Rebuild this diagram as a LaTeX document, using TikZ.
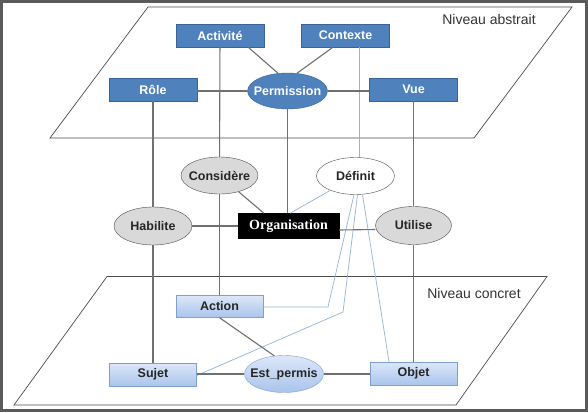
\documentclass[tikz,border=0pt]{standalone}
\usepackage{fontspec}
\setmainfont{Liberation Sans}
\newfontfamily\orgfont{Liberation Serif}
\usetikzlibrary{shapes.geometric}
\newcommand\elltext[1]{\makebox[0pt]{#1}}
\definecolor{boxblue}{HTML}{4F81BD}
\definecolor{boxedge}{HTML}{3A6496}
\definecolor{lighttop}{HTML}{DCE7F8}
\definecolor{lightbot}{HTML}{A9C4EC}
\definecolor{lightedge}{HTML}{7F9FCF}
\definecolor{ellgray}{HTML}{D9D9D9}
\definecolor{elledge}{HTML}{4D4D4D}
\definecolor{linegray}{HTML}{707070}
\definecolor{lineblue}{HTML}{95B3D7}
\definecolor{framegray}{HTML}{5A5A5A}
\begin{document}
\begin{tikzpicture}[x=1pt,y=-1pt,
  lbl/.style={font=\bfseries\fontsize{12.5}{14}\selectfont},
  darkbox/.style={lbl, draw=boxedge, fill=boxblue, text=white, minimum width=88pt, minimum height=23pt, inner sep=0pt},
  lightbox/.style={lbl, draw=lightedge, top color=lighttop, bottom color=lightbot, text=black!85, minimum width=87pt, minimum height=22pt, inner sep=0pt},
  darkell/.style={lbl, ellipse, draw=boxedge, fill=boxblue, text=white, minimum width=80pt, minimum height=36pt, inner sep=0pt},
  grayell/.style={lbl, ellipse, draw=elledge, fill=ellgray, text=black!85, minimum width=77pt, minimum height=37pt, inner sep=0pt},
  whiteell/.style={lbl, ellipse, draw=elledge, fill=white, text=black!85, minimum width=78pt, minimum height=37pt, inner sep=0pt},
  lightell/.style={lbl, ellipse, draw=lightedge, top color=lighttop, bottom color=lightbot, text=black!85, minimum width=79pt, minimum height=37pt, inner sep=0pt},
  link/.style={draw=linegray, line width=1.1pt},
  bluelink/.style={draw=lineblue, line width=0.7pt},
  plane/.style={draw=black!70, line width=0.7pt},
  levelname/.style={font=\fontsize{14}{16}\selectfont, text=black!80}]
\useasboundingbox (0,0) rectangle (588,412);
\fill[white] (0,0) rectangle (588,412);
\draw[framegray, line width=2.2pt] (1.5,1.5) rectangle (586.5,410.5);

% planes
\draw[plane] (148,7) -- (572,7) -- (474,138) -- (50,138) -- cycle;
\draw[plane] (107,276.5) -- (547,276.5) -- (456,405) -- (14,405) -- cycle;
\node[levelname] (abs) at (489,19) {Niveau abstrait};
\node[levelname] (con) at (474,293) {Niveau concret};

% abstract level
\node[darkbox] (act) at (220,35.5) {Activité};
\node[darkbox] (ctx) at (345.5,35.5) {Contexte};
\node[darkbox] (role) at (153,89.5) {Rôle};
\node[darkbox] (vue) at (413.5,89.5) {Vue};
\node[darkell] (perm) at (287.5,91) {\elltext{Permission}};

% middle
\node[grayell] (cons) at (219.5,175.5) {\elltext{Considère}};
\node[whiteell] (def) at (355.5,176) {\elltext{Définit}};
\node[grayell, minimum width=78pt, minimum height=38pt] (hab) at (153,226) {\elltext{Habilite}};
\node[draw=black, fill=black, text=white, font=\orgfont\bfseries\fontsize{14}{16}\selectfont, minimum width=101pt, minimum height=25pt, inner sep=0pt] (org) at (288.5,226) {Organisation};
\node[grayell, minimum width=76pt, minimum height=38pt] (uti) at (413.5,225.5) {\elltext{Utilise}};

% concrete level
\node[lightbox] (action) at (219.5,306.5) {Action};
\node[lightbox, minimum height=23pt] (sujet) at (153,374.5) {Sujet};
\node[lightell, minimum height=37pt] (estp) at (284,374) {\elltext{Est\_permis}};
\node[lightbox, minimum height=23pt] (objet) at (413.5,373.5) {Objet};

% blue links (behind grey ones)
\draw[bluelink] ([xshift=13.5pt]ctx.south) -- ([xshift=13.5pt]ctx.south |- def.north);
\draw[bluelink] (def) -- ([xshift=1.5pt]org.north);
\draw[bluelink] ([xshift=-1.5pt]def.south) -- (328,307) -- (action.east |- 0,307);
\draw[bluelink] ([xshift=2pt]def.south) -- (343,312) -- ([yshift=-1pt]sujet.east);
\draw[bluelink] ([xshift=7pt]def.south) -- ([xshift=-24.5pt]objet.north);

% grey links
\draw[link] (act) -- (cons);
\draw[link] (cons) -- (action);
\draw[link] ([xshift=-16pt]act.south east) -- (perm.118);
\draw[link] ([xshift=-12.5pt]ctx.south) -- (perm.62);
\draw[link] (role.east |- perm.west) -- (perm.west);
\draw[link] (perm.east) -- (vue.west |- perm.east);
\draw[link] (role) -- (hab);
\draw[link] (hab) -- (sujet);
\draw[link] (perm.south) -- (perm.south |- org.north);
\draw[link] (vue) -- (uti);
\draw[link] (uti) -- (objet);
\draw[link] (cons) -- ([xshift=-24.5pt]org.north);
\draw[link] (hab.east) -- (org.west);
\draw[link] ([yshift=-4pt]org.east) -- ([yshift=-4pt]uti.west);
\draw[link] (action.south) -- (estp.118);
\draw[link] (sujet.east |- estp.west) -- (estp.west);
\draw[link] (estp.east) -- (objet.west |- estp.east);
\end{tikzpicture}
\end{document}
